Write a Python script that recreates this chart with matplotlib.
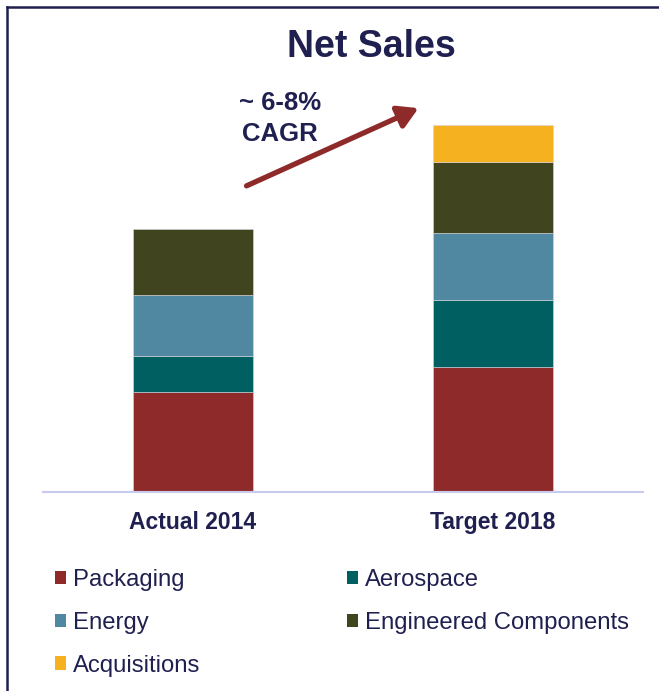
import matplotlib
matplotlib.use("Agg")
import matplotlib.pyplot as plt
from matplotlib.lines import Line2D
from matplotlib.patches import FancyArrowPatch
import numpy as np

# net sales mix, relative units
periods = ["Actual 2014", "Target 2018"]
segments = ["Packaging", "Aerospace", "Energy", "Engineered Components", "Acquisitions"]
packaging = [100, 125]
aerospace = [36, 67]
energy = [61, 67]
engineered = [66, 71]
acquisitions = [0, 37]

colors = {
    "Packaging": "#8e2b2a",
    "Aerospace": "#005f61",
    "Energy": "#5087a1",
    "Engineered Components": "#404520",
    "Acquisitions": "#f5b120",
}
navy = "#1f2050"

plt.rcParams["font.family"] = ["Liberation Sans", "DejaVu Sans"]

W, H = 659, 691
fig = plt.figure(figsize=(W / 100, H / 100), dpi=100)

# axes spans the baseline region of the bars
ax = fig.add_axes([43 / W, 1 - 492 / H, 600 / W, 392 / H])
x = np.arange(len(periods))
series = [packaging, aerospace, energy, engineered, acquisitions]
bottom = np.zeros(len(periods))
bars = {}
for name, vals in zip(segments, series):
    vals = np.array(vals, dtype=float)
    h = np.where(vals > 0, vals, np.nan)
    bars[name] = ax.bar(x, h, 0.4, bottom=bottom, color=colors[name],
                        edgecolor="#d8d8e0", linewidth=0.4, label=name)
    bottom += vals

ax.set_xlim(-0.5, 1.5)
ax.set_ylim(0, 392)
ax.set_yticks([])
ax.set_xticks(x)
ax.set_xticklabels(periods, fontsize=16.5, fontweight="bold", color=navy)
ax.tick_params(axis="x", length=0, pad=14)
for s in ["top", "right", "left"]:
    ax.spines[s].set_visible(False)
ax.spines["bottom"].set_color("#c9cbee")
ax.spines["bottom"].set_linewidth(1.5)
ax.patch.set_alpha(0)

fig.text(371 / W, 1 - 47 / H, "Net Sales", ha="center", va="center",
         fontsize=27, fontweight="bold", color=navy)

fig.text(280 / W, 1 - 103 / H, "~ 6-8%", ha="center", va="center",
         fontsize=18.5, fontweight="bold", color=navy)
fig.text(280 / W, 1 - 134 / H, "CAGR", ha="center", va="center",
         fontsize=18.5, fontweight="bold", color=navy)

fig.patches.append(FancyArrowPatch(
    (244 / W, 1 - 187 / H), (421 / W, 1 - 107 / H),
    transform=fig.transFigure, arrowstyle="-|>,head_length=12,head_width=7",
    mutation_scale=1, color="#8e2b2a", linewidth=3.8))

# frame lines
fig.add_artist(Line2D([7 / W, 1], [1 - 7 / H, 1 - 7 / H], color=navy, lw=1.8))
fig.add_artist(Line2D([7 / W, 7 / W], [0, 1 - 7 / H], color=navy, lw=1.8))

order = ["Packaging", "Energy", "Acquisitions", "Aerospace", "Engineered Components"]
leg = fig.legend([bars[n] for n in order], order, loc="upper left",
                 bbox_to_anchor=(55 / W, 1 - 569 / H), ncol=2, frameon=False,
                 fontsize=17.2, handlelength=0.47, handleheight=0.47,
                 handletextpad=0.28, columnspacing=6.15, labelspacing=0.87,
                 borderaxespad=0, borderpad=0)
for t in leg.get_texts():
    t.set_color(navy)
for hd in leg.legend_handles:
    hd.set_edgecolor("none")

fig.savefig("out.png", dpi=100)
